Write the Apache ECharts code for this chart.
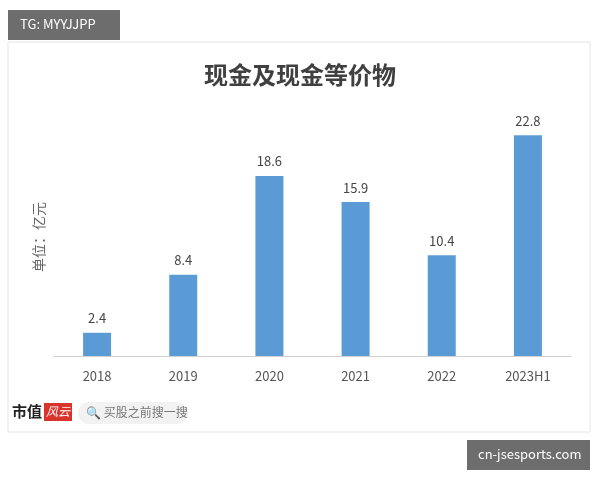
<!DOCTYPE html>
<html><head><meta charset="utf-8">
<script src="https://cdn.jsdelivr.net/npm/echarts@6/dist/echarts.min.js"></script>
<style>html,body{margin:0;padding:0;background:#fff}#c{width:600px;height:480px}</style>
</head><body><div id="c"></div>
<script>
const categories = ['2018','2019','2020','2021','2022','2023H1'];
const values = [2.4, 8.4, 18.6, 15.9, 10.4, 22.8];
const titleText = '现金及现金等价物';
const unitText = '单位：亿元';
const chart = echarts.init(document.getElementById('c'));
const font = '"Noto Sans CJK SC", sans-serif';
chart.setOption({
  animation: false,
  backgroundColor: '#fff',
  title: { text: titleText, left: 'center', top: 58, textStyle: { fontSize: 24, fontWeight: 'bold', color: '#404040', fontFamily: font } },
  grid: { left: 54, right: 29, top: 114, bottom: 124 },
  xAxis: { type: 'category', data: categories,
    axisLine: { lineStyle: { color: '#d0d0d0' } }, axisTick: { show: false },
    axisLabel: { color: '#555', fontSize: 13, margin: 14, fontFamily: font } },
  yAxis: { type: 'value', min: 0, max: 25, show: false },
  series: [{ type: 'bar', data: values, barWidth: 28,
    itemStyle: { color: '#5b9bd5' },
    label: { show: true, position: 'top', color: '#444', fontSize: 13, distance: 8, fontFamily: font } }],
  graphic: [
    { type: 'rect', shape: { x: 8, y: 42, width: 582, height: 390 }, style: { fill: 'none', stroke: '#e4e4e4', lineWidth: 1 }, z: -1 },
    { type: 'rect', shape: { x: 8, y: 10, width: 112, height: 30 }, style: { fill: '#6d6d6d' } },
    { type: 'text', x: 20, y: 18, style: { text: 'TG: MYYJJPP', fill: '#fff', fontSize: 13, fontFamily: font } },
    { type: 'text', x: 32, y: 272, rotation: Math.PI/2, style: { text: unitText, fill: '#666', fontSize: 14, fontFamily: font } },
    { type: 'text', x: 12, y: 404, style: { text: '市值', fill: '#222', fontSize: 15, fontWeight: 'bold', fontFamily: font } },
    { type: 'rect', shape: { x: 44, y: 403, width: 28, height: 18 }, style: { fill: '#d9342b' } },
    { type: 'text', x: 46, y: 405, style: { text: '风云', fill: '#fff', fontSize: 12, fontStyle: 'italic', fontFamily: font } },
    { type: 'rect', shape: { x: 78, y: 402, width: 110, height: 22, r: 11 }, style: { fill: '#f2f2f2' } },
    { type: 'text', x: 86, y: 406, style: { text: '🔍 买股之前搜一搜', fill: '#777', fontSize: 12, fontFamily: font } },
    { type: 'rect', shape: { x: 467, y: 440, width: 123, height: 30 }, style: { fill: '#6d6d6d' } },
    { type: 'text', x: 478, y: 448, style: { text: 'cn-jsesports.com', fill: '#fff', fontSize: 13, fontFamily: font } }
  ]
});
</script></body></html>
